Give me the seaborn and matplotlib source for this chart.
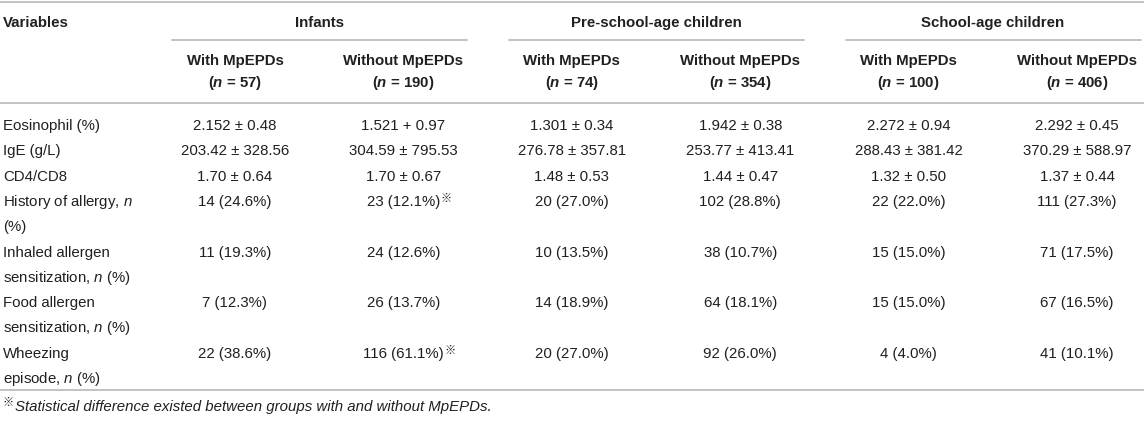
import numpy as np
import matplotlib
matplotlib.use("Agg")
import matplotlib.pyplot as plt
import seaborn as sns

# Datos de la tabla
groups = ["Infants", "Pre-school-age children", "School-age children"]
n_with = [57, 74, 100]
n_without = [190, 354, 406]

variables = ["Eosinophil (%)", "IgE (g/L)", "CD4/CD8",
             "History of allergy, $n$\n(%)",
             "Inhaled allergen\nsensitization, $n$ (%)",
             "Food allergen\nsensitization, $n$ (%)",
             "Wheezing\nepisode, $n$ (%)"]

# columnas: Infants con/sin, Pre-school con/sin, School con/sin
eosinophil_mean = [2.152, 1.521, 1.301, 1.942, 2.272, 2.292]
eosinophil_sd = [0.48, 0.97, 0.34, 0.38, 0.94, 0.45]
eosinophil_sep = ["±", "+", "±", "±", "±", "±"]
ige_mean = [203.42, 304.59, 276.78, 253.77, 288.43, 370.29]
ige_sd = [328.56, 795.53, 357.81, 413.41, 381.42, 588.97]
cd4cd8_mean = [1.70, 1.70, 1.48, 1.44, 1.32, 1.37]
cd4cd8_sd = [0.64, 0.67, 0.53, 0.47, 0.50, 0.44]
allergy_n = [14, 23, 20, 102, 22, 111]
allergy_pct = [24.6, 12.1, 27.0, 28.8, 22.0, 27.3]
inhaled_n = [11, 24, 10, 38, 15, 71]
inhaled_pct = [19.3, 12.6, 13.5, 10.7, 15.0, 17.5]
food_n = [7, 26, 14, 64, 15, 67]
food_pct = [12.3, 13.7, 18.9, 18.1, 15.0, 16.5]
wheezing_n = [22, 116, 20, 92, 4, 41]
wheezing_pct = [38.6, 61.1, 27.0, 26.0, 4.0, 10.1]
# diferencia estadistica (fila, columna)
significant = [(3, 1), (6, 1)]

footnote = "Statistical difference existed between groups with and without MpEPDs."

# Construir las celdas
cells = [
    [f"{m:.3f} {s} {d:.2f}" for m, s, d in zip(eosinophil_mean, eosinophil_sep, eosinophil_sd)],
    [f"{m:.2f} ± {d:.2f}" for m, d in zip(ige_mean, ige_sd)],
    [f"{m:.2f} ± {d:.2f}" for m, d in zip(cd4cd8_mean, cd4cd8_sd)],
    [f"{n} ({p:.1f}%)" for n, p in zip(allergy_n, allergy_pct)],
    [f"{n} ({p:.1f}%)" for n, p in zip(inhaled_n, inhaled_pct)],
    [f"{n} ({p:.1f}%)" for n, p in zip(food_n, food_pct)],
    [f"{n} ({p:.1f}%)" for n, p in zip(wheezing_n, wheezing_pct)],
]

sns.set_theme(style="white")
plt.rcParams["font.family"] = ["Liberation Sans", "DejaVu Sans"]
plt.rcParams["mathtext.fontset"] = "custom"
plt.rcParams["mathtext.rm"] = "Liberation Sans"
plt.rcParams["mathtext.it"] = "Liberation Sans:italic"
plt.rcParams["mathtext.bf"] = "Liberation Sans:bold"
plt.rcParams["mathtext.bfit"] = "Liberation Sans:italic:bold"

W, H = 1144, 421
fig = plt.figure(figsize=(W / 100, H / 100), dpi=100)
ax = fig.add_axes([0, 0, 1, 1])
ax.set_xlim(0, W)
ax.set_ylim(H, 0)
ax.axis("off")

txt = "#231f20"
rule = "#bdbdbd"
fs = 10.8
col_x = 235 + 168.4 * np.arange(6)
row_step = 25.3
mark_font = ["Noto Sans CJK SC", "DejaVu Sans"]

# lineas horizontales
ax.plot([0, W], [2, 2], color=rule, lw=1.3)
ax.plot([0, W], [103, 103], color=rule, lw=1.3)
ax.plot([0, W], [390, 390], color=rule, lw=1.3)

# encabezado
ax.text(3, 23, "Variables", fontsize=fs, fontweight="bold", color=txt, va="center", ha="left")
for g, name in enumerate(groups):
    c1, c2 = col_x[2 * g], col_x[2 * g + 1]
    ax.text((c1 + c2) / 2, 23, name, fontsize=fs, fontweight="bold", color=txt,
            va="center", ha="center")
    ax.plot([c1 - 63, min(c2 + 64, W - 2)], [40, 40], color=rule, lw=1.3)
    for k, (lab, n) in enumerate([("With MpEPDs", n_with[g]), ("Without MpEPDs", n_without[g])]):
        x = col_x[2 * g + k]
        ax.text(x, 61, lab, fontsize=fs, fontweight="bold", color=txt, va="center", ha="center")
        ax.text(x, 83, r"($\mathbfit{n}$ = " + str(n) + ")", fontsize=fs, fontweight="bold",
                color=txt, va="center", ha="center")

# filas
y = 126
for i, var in enumerate(variables):
    lines = var.split("\n")
    for j, ln in enumerate(lines):
        ax.text(3, y + j * row_step, ln, fontsize=fs, color=txt, va="center", ha="left")
    for c in range(6):
        t = ax.text(col_x[c], y, cells[i][c], fontsize=fs, color=txt, va="center", ha="center")
        if (i, c) in significant:
            ax.annotate("※", xy=(1, 1), xycoords=t, xytext=(0.5, 2), textcoords="offset points",
                        fontsize=8, fontweight="bold", color=txt, va="top", ha="left",
                        family=mark_font)
    y += row_step * len(lines)

# nota al pie
ax.text(3, 402, "※", fontsize=8, fontweight="bold", color=txt, va="center", ha="left",
        family=mark_font)
ax.text(15, 407, footnote, fontsize=fs, style="italic", color=txt, va="center", ha="left")

fig.savefig("out.png", dpi=100)
